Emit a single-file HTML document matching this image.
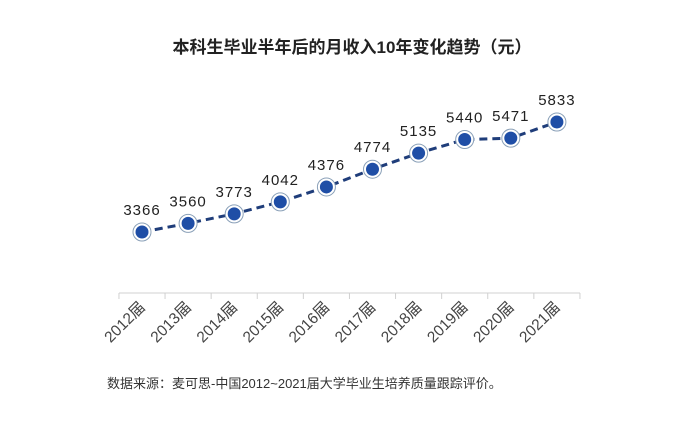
<!DOCTYPE html>
<html><head><meta charset="utf-8">
<style>
html,body{margin:0;padding:0;background:#fff;}
body{width:700px;height:419px;overflow:hidden;font-family:"Liberation Sans","Noto Sans CJK SC",sans-serif;}
</style></head>
<body>
<svg id="chart" width="700" height="419" xmlns="http://www.w3.org/2000/svg">
<text x="352" y="53" text-anchor="middle" font-size="17" font-weight="bold" fill="#222" font-family="Liberation Sans, Noto Sans CJK SC, sans-serif">本科生毕业半年后的月收入10年变化趋势（元）</text>
<line x1="119" y1="293" x2="580" y2="293" stroke="#d0d0d0" stroke-width="1"/>
<g id="ticks"></g>
<g id="labels"></g>
<path id="line" fill="none" stroke="#1f3d7a" stroke-width="3" stroke-dasharray="8,5"/>
<g id="points"></g>
<text x="107" y="388" font-size="13" fill="#333" font-family="Liberation Sans, Noto Sans CJK SC, sans-serif">数据来源：麦可思-中国2012~2021届大学毕业生培养质量跟踪评价。</text>
</svg>
<script>
const categories = ["2012届","2013届","2014届","2015届","2016届","2017届","2018届","2019届","2020届","2021届"];
const values = [3366,3560,3773,4042,4376,4774,5135,5440,5471,5833];
const NS="http://www.w3.org/2000/svg";
const x0=142, step=46.1;
function xScale(i){return x0+i*step;}
function yScale(v){return 232-(v-3366)*(110/2467);}
const ticks=document.getElementById('ticks'), labels=document.getElementById('labels'), pts=document.getElementById('points');
function mk(t,a){const e=document.createElementNS(NS,t);for(const k in a)e.setAttribute(k,a[k]);return e;}
for(let i=0;i<=categories.length;i++){
  const tx=xScale(i)-step/2;
  const t=mk('line',{x1:tx,y1:293,x2:tx,y2:299,stroke:'#d0d0d0'});
  
  
  ticks.appendChild(t);
}
let d='';
categories.forEach((c,i)=>{
  const x=xScale(i), y=yScale(values[i]);
  d+=(i?'L':'M')+x+','+y;
  const lb=mk('text',{x:x+4,y:308,'text-anchor':'end','font-size':'15.5',fill:'#444',transform:`rotate(-45 ${x+4} 308)`,'font-family':'Liberation Sans, Noto Sans CJK SC, sans-serif'});
  lb.textContent=c;
  
  
  labels.appendChild(lb);
});
document.getElementById('line').setAttribute('d',d);
values.forEach((v,i)=>{
  const x=xScale(i), y=yScale(v);
  const g=mk('g',{});
  
  
  g.appendChild(mk('circle',{cx:x,cy:y,r:9,fill:'#fff',stroke:'#8aa0b8','stroke-width':1}));
  g.appendChild(mk('circle',{cx:x,cy:y,r:6.5,fill:'#1f4ea6'}));
  const t=mk('text',{x:x,y:y-17,'text-anchor':'middle','font-size':'15',fill:'#222','letter-spacing':'1'});
  t.textContent=v;
  
  
  g.appendChild(t);
  pts.appendChild(g);
});
</script>
</body></html>
